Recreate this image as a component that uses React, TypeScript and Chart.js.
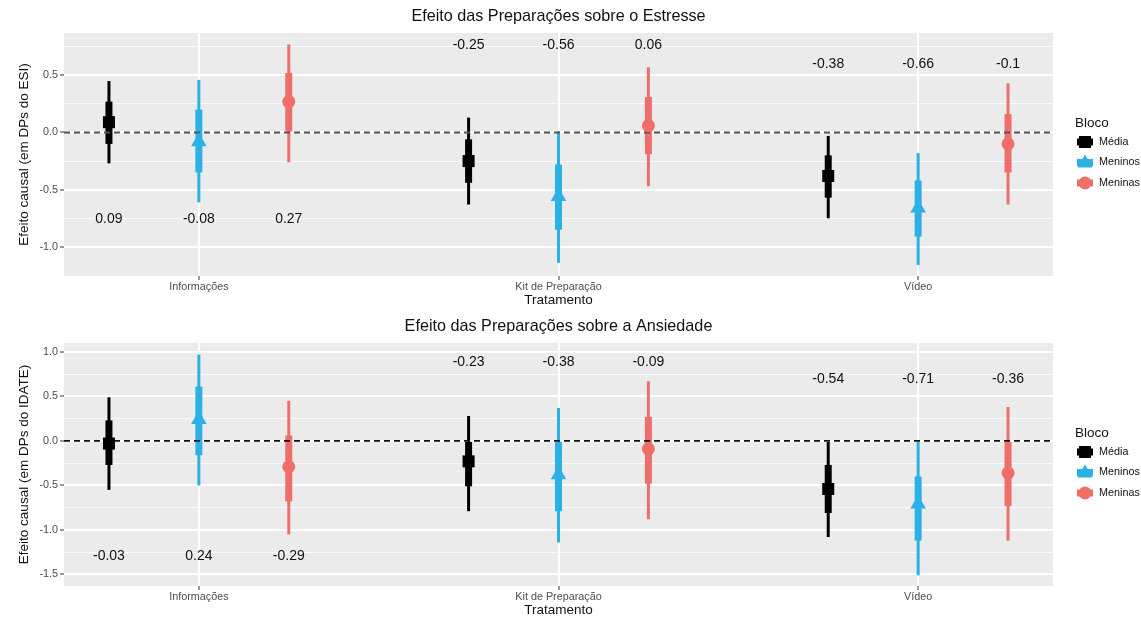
import React, { useEffect, useRef } from 'react';
import { Chart, registerables } from 'chart.js';

Chart.register(...registerables);

const FONT = '"Liberation Sans", Arial, Helvetica, sans-serif';

const categories = ['Informações', 'Kit de Preparação', 'Vídeo'];
const groups = ['Média', 'Meninos', 'Meninas'];
const groupColors = ['#000000', '#2BB1E5', '#EF6E6A'];
const groupShapes = ['rect', 'triangle', 'circle'];
const groupRadius = [8.5, 9, 6.5];

// ---------- Painel 1: Estresse (rows = Média, Meninos, Meninas; cols = categorias)
const stressEst = [
  [0.09, -0.25, -0.38],
  [-0.08, -0.56, -0.66],
  [0.27, 0.06, -0.1],
];
const stressLo95 = [
  [-0.27, -0.63, -0.75],
  [-0.61, -1.14, -1.16],
  [-0.26, -0.47, -0.63],
];
const stressHi95 = [
  [0.45, 0.13, -0.03],
  [0.46, 0.01, -0.18],
  [0.77, 0.57, 0.43],
];
const stressLo50 = [
  [-0.1, -0.44, -0.57],
  [-0.35, -0.85, -0.91],
  [0.0, -0.19, -0.35],
];
const stressHi50 = [
  [0.27, -0.06, -0.2],
  [0.2, -0.28, -0.42],
  [0.52, 0.31, 0.16],
];
const stressLabelY = [-0.76, 0.76, 0.6];
const stressTicks = [-1, -0.75, -0.5, -0.25, 0, 0.25, 0.5, 0.75];
const stressRange = [-1.255, 0.87];

// ---------- Painel 2: Ansiedade
const anxietyEst = [
  [-0.03, -0.23, -0.54],
  [0.24, -0.38, -0.71],
  [-0.29, -0.09, -0.36],
];
const anxietyLo95 = [
  [-0.55, -0.79, -1.08],
  [-0.5, -1.14, -1.51],
  [-1.05, -0.88, -1.12],
];
const anxietyHi95 = [
  [0.49, 0.28, 0.0],
  [0.97, 0.37, 0.0],
  [0.45, 0.67, 0.38],
];
const anxietyLo50 = [
  [-0.27, -0.51, -0.81],
  [-0.16, -0.79, -1.12],
  [-0.68, -0.48, -0.73],
];
const anxietyHi50 = [
  [0.23, 0.0, -0.27],
  [0.61, -0.01, -0.4],
  [0.06, 0.27, 0.0],
];
const anxietyLabelY = [-1.29, 0.89, 0.69];
const anxietyTicks = [-1.5, -1.25, -1, -0.75, -0.5, -0.25, 0, 0.25, 0.5, 0.75, 1];
const anxietyRange = [-1.63, 1.1];

const dodge = [-0.25, 0, 0.25];
const X_RANGE = [0.625, 3.375];

const isMajor = (v: number) => Math.abs(v * 2 - Math.round(v * 2)) < 1e-6;

const decorPlugin = {
  id: 'panelDecor',
  beforeDraw(chart: any) {
    const { ctx, chartArea } = chart;
    ctx.save();
    ctx.fillStyle = '#EBEBEB';
    ctx.fillRect(chartArea.left, chartArea.top, chartArea.right - chartArea.left, chartArea.bottom - chartArea.top);
    ctx.restore();
  },
  afterDatasetsDraw(chart: any, _args: any, opts: any) {
    const { ctx, scales } = chart;
    ctx.save();
    ctx.font = `14px ${FONT}`;
    ctx.fillStyle = '#111111';
    ctx.textAlign = 'center';
    ctx.textBaseline = 'middle';
    groups.forEach((_g, gi) => {
      categories.forEach((_c, ci) => {
        const x = scales.x.getPixelForValue(ci + 1 + dodge[gi]);
        const y = scales.y.getPixelForValue(opts.labelY[ci]);
        ctx.fillText(String(opts.est[gi][ci]), x, y);
      });
    });
    ctx.restore();
  },
  afterDraw(chart: any, _args: any, opts: any) {
    const { ctx, chartArea } = chart;
    ctx.save();
    // title
    ctx.font = `16.2px ${FONT}`;
    ctx.fillStyle = '#111111';
    ctx.textAlign = 'center';
    ctx.textBaseline = 'middle';
    ctx.fillText(opts.title, (chartArea.left + chartArea.right) / 2, 17);
    // legend
    const lx = chartArea.right + 22;
    ctx.textAlign = 'left';
    ctx.font = `13.5px ${FONT}`;
    ctx.fillText('Bloco', lx, chartArea.top + 90);
    groups.forEach((g, gi) => {
      const cy = chartArea.top + 109 + gi * 20.5;
      const kx = lx + 10;
      const col = groupColors[gi];
      ctx.strokeStyle = col;
      ctx.fillStyle = col;
      ctx.lineWidth = 7;
      ctx.beginPath();
      ctx.moveTo(kx - 8, cy);
      ctx.lineTo(kx + 8, cy);
      ctx.stroke();
      ctx.beginPath();
      if (groupShapes[gi] === 'rect') {
        ctx.rect(kx - 6, cy - 6, 12, 12);
      } else if (groupShapes[gi] === 'triangle') {
        ctx.moveTo(kx, cy - 8);
        ctx.lineTo(kx + 7.5, cy + 5);
        ctx.lineTo(kx - 7.5, cy + 5);
        ctx.closePath();
      } else {
        ctx.arc(kx, cy, 6.5, 0, Math.PI * 2);
      }
      ctx.fill();
      ctx.fillStyle = '#111111';
      ctx.font = `10.8px ${FONT}`;
      ctx.fillText(g, lx + 24, cy);
    });
    ctx.restore();
  },
};

function buildConfig(p: any) {
  const datasets: any[] = [];
  groups.forEach((g, gi) => {
    const xs = categories.map((_c, ci) => ci + 1 + dodge[gi]);
    datasets.push({
      type: 'bar',
      label: g + ' 95',
      data: xs.map((x, ci) => ({ x, y: [p.lo95[gi][ci], p.hi95[gi][ci]] })),
      backgroundColor: groupColors[gi],
      borderWidth: 0,
      borderSkipped: false,
      grouped: false,
      maxBarThickness: 3,
      order: 5,
    });
    datasets.push({
      type: 'bar',
      label: g + ' 50',
      data: xs.map((x, ci) => ({ x, y: [p.lo50[gi][ci], p.hi50[gi][ci]] })),
      backgroundColor: groupColors[gi],
      borderWidth: 0,
      borderSkipped: false,
      grouped: false,
      maxBarThickness: 7,
      order: 4,
    });
    datasets.push({
      type: 'scatter',
      label: g,
      data: xs.map((x, ci) => ({ x, y: p.est[gi][ci] })),
      pointStyle: groupShapes[gi],
      pointRadius: groupRadius[gi],
      backgroundColor: groupColors[gi],
      borderWidth: 0,
      order: 1,
    });
  });
  datasets.push({
    type: 'line',
    label: 'zero',
    data: [{ x: X_RANGE[0], y: 0 }, { x: X_RANGE[1], y: 0 }],
    borderColor: p.dashColor,
    borderWidth: 1.8,
    borderDash: [6, 4],
    pointRadius: 0,
    fill: false,
    order: 2,
  });

  return {
    type: 'scatter',
    data: { datasets },
    plugins: [decorPlugin],
    options: {
      animation: false,
      responsive: false,
      events: [],
      layout: { padding: { top: 33, right: 88, left: 0, bottom: 0 } },
      plugins: {
        legend: { display: false },
        tooltip: { enabled: false },
        title: { display: false },
        panelDecor: { title: p.title, est: p.est, labelY: p.labelY },
      },
      scales: {
        x: {
          type: 'linear',
          min: X_RANGE[0],
          max: X_RANGE[1],
          offset: false,
          afterBuildTicks: (s: any) => {
            s.ticks = categories.map((_c, i) => ({ value: i + 1 }));
          },
          afterFit: (s: any) => {
            s.height = 34;
          },
          ticks: {
            autoSkip: false,
            maxRotation: 0,
            padding: 1,
            color: '#4D4D4D',
            font: { family: FONT, size: 10.8 },
            callback: (v: any) => categories[Math.round(Number(v)) - 1] ?? '',
          },
          grid: { offset: false, color: '#FFFFFF', lineWidth: 2, tickColor: '#333333', tickLength: 4, tickWidth: 1 },
          border: { display: false },
          title: {
            display: true,
            text: 'Tratamento',
            color: '#111111',
            font: { family: FONT, size: 13.5 },
            padding: { top: 0, bottom: 2 },
          },
        },
        y: {
          type: 'linear',
          min: p.range[0],
          max: p.range[1],
          afterBuildTicks: (s: any) => {
            s.ticks = p.ticks.map((v: number) => ({ value: v }));
          },
          afterFit: (s: any) => {
            s.width = 64;
          },
          ticks: {
            autoSkip: false,
            padding: 2,
            color: '#4D4D4D',
            font: { family: FONT, size: 10.8 },
            callback: (v: any) => (isMajor(Number(v)) ? Number(v).toFixed(1) : ''),
          },
          grid: {
            offset: false,
            color: (c: any) => (c.tick && isMajor(c.tick.value) ? '#FFFFFF' : 'rgba(255,255,255,0.75)'),
            lineWidth: (c: any) => (c.tick && isMajor(c.tick.value) ? 2 : 1),
            tickColor: (c: any) => (c.tick && isMajor(c.tick.value) ? '#333333' : 'rgba(0,0,0,0)'),
            tickLength: 4,
            tickWidth: 1,
          },
          border: { display: false },
          title: {
            display: true,
            text: p.yTitle,
            color: '#111111',
            font: { family: FONT, size: 13.5 },
            padding: { top: 16, bottom: 0 },
          },
        },
      },
    },
  };
}

function Panel(props: any) {
  const ref = useRef<HTMLCanvasElement | null>(null);
  useEffect(() => {
    if (!ref.current) return;
    const chart = new Chart(ref.current, buildConfig(props.p) as any);
    return () => chart.destroy();
  }, []);
  return <canvas ref={ref} width={1141} height={310} style={{ display: 'block', width: 1141, height: 310 }} />;
}

export default function App() {
  const top = {
    title: 'Efeito das Preparações sobre o Estresse',
    yTitle: 'Efeito causal (em DPs do ESI)',
    est: stressEst,
    lo95: stressLo95,
    hi95: stressHi95,
    lo50: stressLo50,
    hi50: stressHi50,
    labelY: stressLabelY,
    ticks: stressTicks,
    range: stressRange,
    dashColor: '#555555',
  };
  const bottom = {
    title: 'Efeito das Preparações sobre a Ansiedade',
    yTitle: 'Efeito causal (em DPs do IDATE)',
    est: anxietyEst,
    lo95: anxietyLo95,
    hi95: anxietyHi95,
    lo50: anxietyLo50,
    hi50: anxietyHi50,
    labelY: anxietyLabelY,
    ticks: anxietyTicks,
    range: anxietyRange,
    dashColor: '#111111',
  };
  return (
    <div style={{ position: 'absolute', left: 0, top: 0, width: 1141, height: 620, background: '#FFFFFF', overflow: 'hidden' }}>
      <Panel p={top} />
      <Panel p={bottom} />
    </div>
  );
}
